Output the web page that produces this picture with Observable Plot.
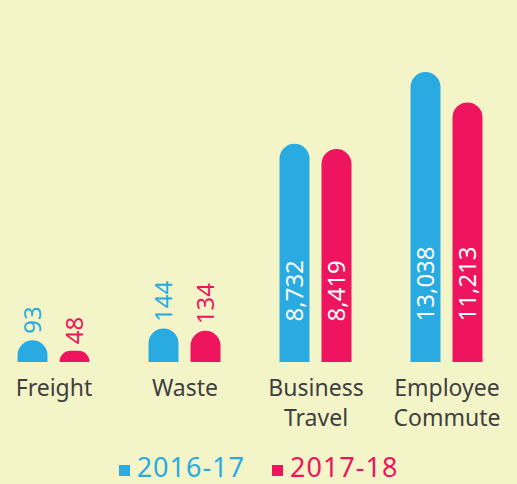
<!DOCTYPE html>
<html>
<head>
<meta charset="utf-8">
<script src="https://cdn.jsdelivr.net/npm/d3@7"></script>
<script src="https://cdn.jsdelivr.net/npm/@observablehq/plot@0.6"></script>
<style>
  html, body { margin: 0; padding: 0; background: #f4f4c9; }
  #wrap { position: relative; width: 517px; height: 484px; overflow: hidden; background: #f4f4c9; font-family: "Noto Sans", sans-serif; }
  #legend { position: absolute; left: 0; top: 453px; width: 517px; display: flex; justify-content: center; gap: 27px; font-size: 27px; line-height: 28px; letter-spacing: 1px; }
  #legend .item { display: flex; align-items: center; }
  #legend .sw { width: 11px; height: 11px; margin-right: 7px; position: relative; top: 3px; }
</style>
</head>
<body>
<div id="wrap"><div id="chart"></div><div id="legend"></div></div>
<script>
const categories = ["Freight", "Waste", "Business Travel", "Employee Commute"];
const categoryLabels = ["Freight", "Waste", "Business\nTravel", "Employee\nCommute"];
const years = ["2016-17", "2017-18"];
const values2016 = [93, 144, 8732, 13038];
const values2017 = [48, 134, 8419, 11213];
const colors = ["#29abe2", "#ee145d"];

const data = [];
categories.forEach((c, i) => {
  data.push({category: c, year: years[0], value: values2016[i]});
  data.push({category: c, year: years[1], value: values2017[i]});
});
const fmt = d3.format(",");
const small = data.filter(d => d.value < 1000);
const big = data.filter(d => d.value >= 1000);

const chart = Plot.plot({
  width: 517,
  height: 450,
  marginLeft: 0.5,
  marginRight: 17.5,
  marginTop: 40,
  marginBottom: 88,
  style: {background: "transparent", fontFamily: "Noto Sans, sans-serif", overflow: "visible"},
  fx: {domain: categories, paddingInner: 0.2, paddingOuter: 0, axis: null},
  x: {domain: years, paddingInner: 0.294, paddingOuter: 0.382, axis: null},
  y: {type: "linear", domain: [0, 150, 8000, 14000], range: [362, 327, 156, 56], axis: null},
  color: {domain: years, range: colors},
  marks: [
    Plot.barY(data, {fx: "category", x: "year", y: "value", fill: "year", ry1: 15}),
    Plot.text(big, {fx: "category", x: "year", y: 0, text: d => fmt(d.value), rotate: -90,
      textAnchor: "start", lineAnchor: "middle", dy: -41, fill: "white", fontSize: 24}),
    Plot.text(small, {fx: "category", x: "year", y: "value", text: d => fmt(d.value), rotate: -90,
      textAnchor: "start", lineAnchor: "middle", dy: -7, fill: "year", fontSize: 24}),
    Plot.text(categories, {fx: d => d, text: (d, i) => categoryLabels[i], frameAnchor: "bottom",
      lineAnchor: "top", dy: 12, lineHeight: 1.3, fontSize: 23, fill: "#404040"})
  ]
});
document.getElementById("chart").appendChild(chart);

const legend = document.getElementById("legend");
years.forEach((y, i) => {
  const item = document.createElement("div");
  item.className = "item";
  const sw = document.createElement("span");
  sw.className = "sw";
  sw.style.background = colors[i];
  const t = document.createElement("span");
  t.textContent = y;
  t.style.color = colors[i];
  item.appendChild(sw);
  item.appendChild(t);
  legend.appendChild(item);
});
</script>
</body>
</html>
